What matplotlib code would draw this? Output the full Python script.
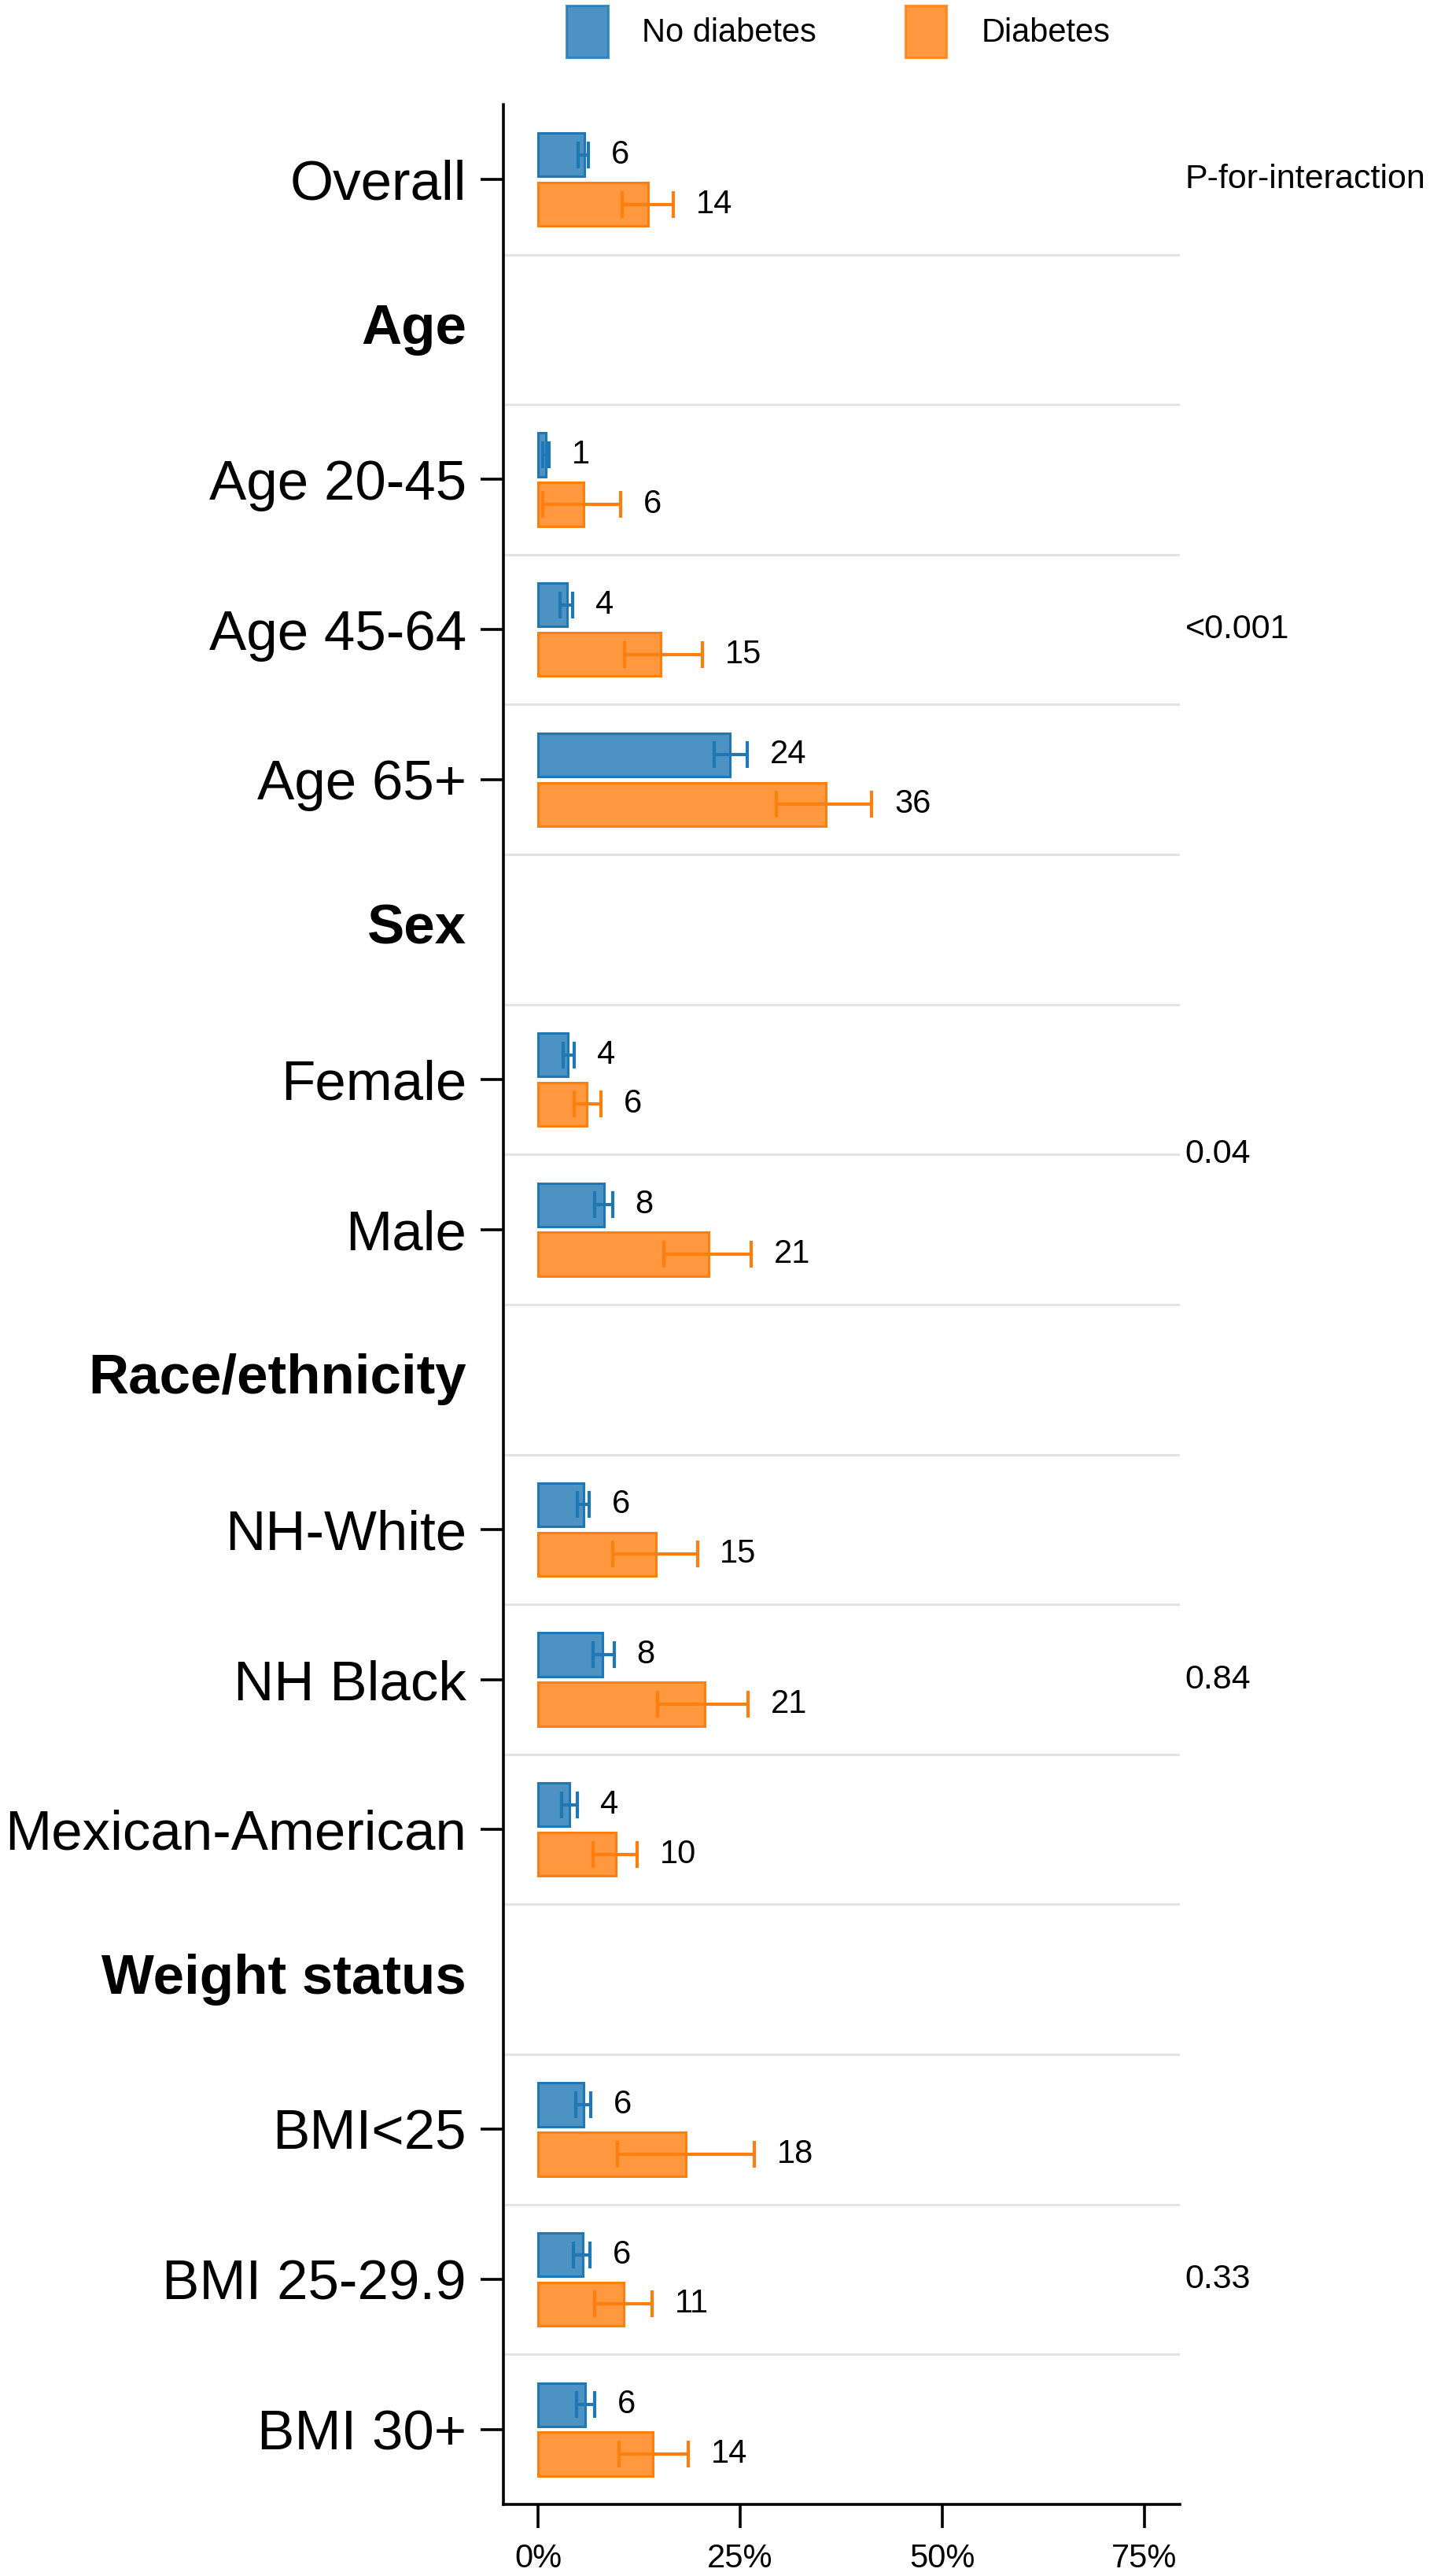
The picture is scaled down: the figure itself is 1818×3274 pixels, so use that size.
import numpy as np
import matplotlib
matplotlib.use('Agg')
import matplotlib.pyplot as plt
from matplotlib.patches import Patch
import matplotlib.transforms as mtransforms

plt.rcParams['font.family'] = ['Liberation Sans', 'DejaVu Sans']

# subgroups, the header they sit under, and the prevalence (%) with 95% CI
labels = ['Overall', 'Age 20-45', 'Age 45-64', 'Age 65+', 'Female', 'Male',
          'NH-White', 'NH Black', 'Mexican-American',
          'BMI<25', 'BMI 25-29.9', 'BMI 30+']
groups = ['', 'Age', 'Age', 'Age', 'Sex', 'Sex',
          'Race/ethnicity', 'Race/ethnicity', 'Race/ethnicity',
          'Weight status', 'Weight status', 'Weight status']

no_dm = [5.7, 1.0, 3.6, 23.7, 3.7, 8.2, 5.6, 8.0, 3.9, 5.6, 5.5, 5.8]
no_dm_lo = [5.0, 0.6, 2.7, 21.8, 3.1, 7.0, 4.9, 6.8, 2.9, 4.7, 4.4, 4.8]
no_dm_hi = [6.2, 1.4, 4.3, 25.9, 4.5, 9.2, 6.3, 9.4, 4.9, 6.5, 6.4, 7.0]

dm = [13.6, 5.6, 15.2, 35.6, 6.0, 21.1, 14.6, 20.6, 9.6, 18.3, 10.6, 14.2]
dm_lo = [10.4, 0.6, 10.7, 29.5, 4.5, 15.6, 9.2, 14.8, 6.8, 9.8, 7.0, 10.0]
dm_hi = [16.7, 10.2, 20.3, 41.3, 7.8, 26.4, 19.7, 26.0, 12.3, 26.8, 14.1, 18.6]

pval_groups = ['Age', 'Sex', 'Race/ethnicity', 'Weight status']
pvals = ['<0.001', '0.04', '0.84', '0.33']

xticks = [0, 25, 50, 75]
xticklabels = ['0%', '25%', '50%', '75%']

blue = '#1f77b4'
orange = '#ff7f0e'

# lay out rows: a header row each time the group changes
rows_y = []
headers = []
y = 0
prev = None
for g in groups:
    if g != '' and g != prev:
        headers.append((g, y))
        y += 1
    rows_y.append(y)
    y += 1
    prev = g
n_rows = y
rows_y = np.array(rows_y, dtype=float)

fig = plt.figure(figsize=(9.09, 16.37), dpi=200)
ax = fig.add_axes([0.352, 0.0278, 0.473, 0.9316])

h = 0.29
off = 0.165
ax.barh(rows_y - off, no_dm, height=h, color=blue, alpha=0.8, zorder=2)
ax.barh(rows_y - off, no_dm, height=h, facecolor='none', edgecolor=blue, linewidth=1.1, zorder=2)
ax.barh(rows_y + off, dm, height=h, color=orange, alpha=0.8, zorder=2)
ax.barh(rows_y + off, dm, height=h, facecolor='none', edgecolor=orange, linewidth=1.1, zorder=2)

for vals, lo, hi, yy, c in [(no_dm, no_dm_lo, no_dm_hi, rows_y - off, blue),
                            (dm, dm_lo, dm_hi, rows_y + off, orange)]:
    mid = (np.array(lo) + np.array(hi)) / 2
    err = (np.array(hi) - np.array(lo)) / 2
    ax.errorbar(mid, yy, xerr=err, fmt='none', ecolor=c, elinewidth=1.5,
                capsize=6, capthick=1.5, zorder=3)
    for v, top, yv in zip(vals, hi, yy):
        ax.text(top + 2.8, yv, f'{v:.0f}', va='center', ha='left', fontsize=15, zorder=4)

# light separators between rows
for k in range(n_rows - 1):
    ax.axhline(k + 0.5, color='#e3e3e3', linewidth=1.1, zorder=1)

ax.set_xlim(-4.3, 79.4)
ax.set_ylim(n_rows - 0.5, -0.5)
ax.set_xticks(xticks)
ax.set_xticklabels(xticklabels, fontsize=15)
ax.set_yticks(rows_y)
ax.set_yticklabels(labels, fontsize=25.5)
ax.tick_params(axis='y', length=10.4, width=1.3, pad=6.5)
ax.tick_params(axis='x', length=10.8, width=1.3, pad=7)

for s in ['top', 'right']:
    ax.spines[s].set_visible(False)
for s in ['left', 'bottom']:
    ax.spines[s].set_linewidth(1.3)

trans = mtransforms.blended_transform_factory(ax.transAxes, ax.transData)
# header labels placed like tick labels, but without a tick
pad_ax = (10.4 + 6.5) / 72 * 200 / (0.473 * 1818)
for g, yh in headers:
    ax.text(-pad_ax, yh, g, transform=trans, ha='right', va='center',
            fontsize=25.5, fontweight='bold')

# p-for-interaction column
ax.text(1.008, 0, 'P-for-interaction', transform=trans, ha='left', va='center',
        fontsize=15.5, clip_on=False)
for g, p in zip(pval_groups, pvals):
    yp = rows_y[[i for i, gg in enumerate(groups) if gg == g]].mean()
    ax.text(1.008, yp, p, transform=trans, ha='left', va='center',
            fontsize=15.5, clip_on=False)

handles = [Patch(facecolor=blue, alpha=0.8, edgecolor=blue, linewidth=1.1, label='No diabetes'),
           Patch(facecolor=orange, alpha=0.8, edgecolor=orange, linewidth=1.1, label='Diabetes')]
fig.legend(handles=handles, loc='upper center', bbox_to_anchor=(0.586, 0.999),
           ncol=2, frameon=False, fontsize=15, handlelength=1.27, handleheight=2.05,
           handletextpad=1.05, columnspacing=2.7, borderpad=0.1, borderaxespad=0)

fig.savefig('out.png', dpi=200)
